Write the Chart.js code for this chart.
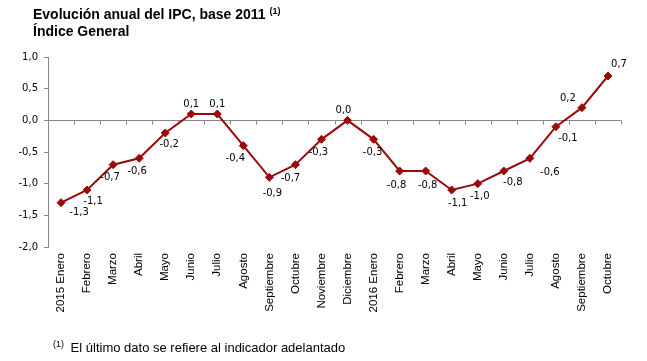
<!DOCTYPE html>
<html>
<head>
<meta charset="utf-8">
<script src="https://cdn.jsdelivr.net/npm/chart.js@4"></script>
<style>
  html, body { margin: 0; padding: 0; background: #fff; }
  #wrap { position: relative; width: 647px; height: 361px; overflow: hidden; }
  canvas { position: absolute; left: 0; top: 0; }
  .title { position: absolute; left: 33px; top: 6px; font: bold 14px "Liberation Sans", Arial, sans-serif; line-height: 17px; color: #000; }
  .title sup, .note sup { font-size: 9px; vertical-align: 5px; line-height: 0; }
  .note { position: absolute; left: 53px; top: 340px; font: 13px "Liberation Sans", Arial, sans-serif; line-height: 15px; color: #000; }
  .note sup { margin-right: 3px; }
</style>
</head>
<body>
<div id="wrap">
  <canvas id="ipcChart" width="647" height="361"></canvas>
  <div class="title">Evolución anual del IPC, base 2011 <sup>(1)</sup><br>Índice General</div>
  <div class="note"><sup>(1)</sup> El último dato se refiere al indicador adelantado</div>
</div>
<script>
// months on the x axis
let months = ["2015 Enero", "Febrero", "Marzo", "Abril", "Mayo", "Junio", "Julio", "Agosto",
    "Septiembre", "Octubre", "Noviembre", "Diciembre", "2016 Enero", "Febrero", "Marzo", "Abril",
    "Mayo", "Junio", "Julio", "Agosto", "Septiembre", "Octubre"];

// annual IPC change (%)
let ipc = [-1.3, -1.1, -0.7, -0.6, -0.2, 0.1, 0.1, -0.4, -0.9, -0.7, -0.3, 0.0,
    -0.3, -0.8, -0.8, -1.1, -1.0, -0.8, -0.6, -0.1, 0.2, 0.7];

// y axis ticks
let yMin = -2.0;
let yMax = 1.0;
let yStep = 0.5;

// where each value label sits, relative to its point (px)
let labelDx = [18, 6, -3, -2, 4, 0, 0, -8, 3, -5, -3, -4, -1, -3, 2, 6, 2, 9, 20, 12, -14, 11];
let labelDy = [10, 11, 13, 13, 11, -10, -10, 13, 16, 14, 13, -10, 13, 14, 14, 13, 13, 11, 14, 12, -9, -12];

const lineColor = "#9a0a0a";
const axisColor = "#868686";

function comma(v) {
    return v.toFixed(1).replace(".", ",");
}

// zero line with small ticks between the months
const zeroAxis = {
    id: "zeroAxis",
    beforeDatasetsDraw(chart) {
        const ctx = chart.ctx;
        const x = chart.scales.x;
        const y0 = Math.round(chart.scales.y.getPixelForValue(0)) + 0.5;
        const n = months.length;
        ctx.save();
        ctx.strokeStyle = axisColor;
        ctx.lineWidth = 1;
        ctx.beginPath();
        ctx.moveTo(chart.chartArea.left, y0);
        ctx.lineTo(chart.chartArea.right, y0);
        for (let i = 1; i <= n; i++) {
            const px = Math.round(x.left + i * x.width / n) + 0.5;
            ctx.moveTo(px, y0);
            ctx.lineTo(px, y0 + 4);
        }
        ctx.stroke();
        ctx.restore();
    }
};

// value labels
const valueLabels = {
    id: "valueLabels",
    afterDatasetsDraw(chart) {
        const ctx = chart.ctx;
        const meta = chart.getDatasetMeta(0);
        ctx.save();
        ctx.font = '10px "DejaVu Sans", sans-serif';
        ctx.fillStyle = "#000";
        ctx.textAlign = "center";
        ctx.textBaseline = "middle";
        meta.data.forEach(function(pt, i) {
            ctx.fillText(comma(ipc[i]), pt.x + labelDx[i], pt.y + labelDy[i]);
        });
        ctx.restore();
    }
};

let ctx = document.getElementById("ipcChart").getContext("2d");
let chart = new Chart(ctx, {
    type: "line",
    data: {
        labels: months,
        datasets: [{
            data: ipc,
            borderColor: lineColor,
            backgroundColor: lineColor,
            borderWidth: 2,
            pointStyle: "rectRot",
            pointRadius: 4,
            pointBorderWidth: 1,
            tension: 0
        }]
    },
    options: {
        responsive: false,
        animation: false,
        layout: { padding: { left: 0, top: 57, right: 26, bottom: 44 } },
        plugins: {
            legend: { display: false },
            tooltip: { enabled: false }
        },
        scales: {
            x: {
                offset: true,
                grid: { display: false, drawTicks: false },
                border: { display: false },
                ticks: {
                    autoSkip: false,
                    maxRotation: 90,
                    minRotation: 90,
                    padding: 6,
                    color: "#000",
                    font: { family: '"Liberation Sans", Arial, sans-serif', size: 11.5 }
                },
                afterFit: function(s) { s.height = 70; }
            },
            y: {
                min: yMin,
                max: yMax,
                grid: { drawOnChartArea: false, tickLength: 4, color: axisColor },
                border: { color: axisColor },
                ticks: {
                    stepSize: yStep,
                    padding: 6,
                    color: "#000",
                    font: { family: '"DejaVu Sans", sans-serif', size: 10 },
                    callback: function(value) { return comma(value); }
                },
                afterFit: function(s) { s.width = 48; }
            }
        }
    },
    plugins: [zeroAxis, valueLabels]
});
</script>
</body>
</html>
